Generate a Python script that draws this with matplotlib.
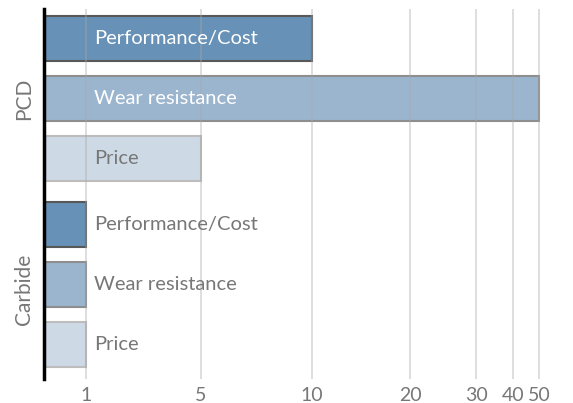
import numpy as np
import matplotlib
matplotlib.use("Agg")
import matplotlib.pyplot as plt
from matplotlib.transforms import blended_transform_factory

plt.rcParams["font.family"] = ["Lato", "DejaVu Sans"]

GROUPS = ["PCD", "Carbide"]
METRICS = ["Performance/Cost", "Wear resistance", "Price"]
PCD_VALUES = [10, 50, 5]
CARBIDE_VALUES = [1, 1, 1]
TICKS = [1, 5, 10, 20, 30, 40, 50]

# the axis is neither linear nor log: it squeezes towards the top end,
# so map tick values to screen positions piecewise
SCALE_VALUES = [0, 1, 5, 10, 20, 30, 40, 50, 60]
SCALE_POS = [0, 42, 157, 268, 366, 432, 469, 495, 529]


def fwd(x):
    return np.interp(x, SCALE_VALUES, SCALE_POS)


def inv(p):
    return np.interp(p, SCALE_POS, SCALE_VALUES)


FILL = ["#6791B6", "#9BB5CF", "#CDD9E5"]
EDGE = ["#585858", "#8E8E8E", "#BDBDBD"]
TEXT_IN = ["white", "white", "#777777"]
GRAY = "#777777"

fig = plt.figure(figsize=(5.73, 4.03), dpi=100)
ax = fig.add_axes([44 / 573, 24 / 403, 512 / 573, 370 / 403])
ax.set_xscale("function", functions=(fwd, inv))

ypos = [0, 1, 2, 3.1, 4.1, 5.1]
values = PCD_VALUES + CARBIDE_VALUES
for i, (y, v) in enumerate(zip(ypos, values)):
    k = i % 3
    ax.barh(y, v, height=0.75, color=FILL[k], edgecolor=EDGE[k],
            linewidth=1.5, zorder=2)
    color = TEXT_IN[k] if i < 3 else GRAY
    ax.annotate(METRICS[k], (1, y), xytext=(6, 0), textcoords="offset points",
                va="center", ha="left", fontsize=14.5, color=color, zorder=4)

ax.set_xlim(0, 55)
ax.set_ylim(5.67, -0.5)
ax.set_xticks(TICKS)
ax.set_xticklabels([str(t) for t in TICKS])
ax.set_yticks([])
ax.tick_params(axis="x", length=0, pad=6, labelsize=14, labelcolor=GRAY)
ax.grid(axis="x", color="#A8A8A8", alpha=0.45, linewidth=1.2, zorder=3)
ax.set_axisbelow(False)

for s in ["top", "right", "bottom"]:
    ax.spines[s].set_visible(False)
ax.spines["left"].set_linewidth(2.5)
ax.spines["left"].set_color("black")

trans = blended_transform_factory(ax.transAxes, ax.transData)
ax.text(-0.039, np.mean(ypos[:3]), GROUPS[0], rotation=90, transform=trans,
        ha="center", va="center", fontsize=15, color=GRAY)
ax.text(-0.039, np.mean(ypos[3:]) + 0.08, GROUPS[1], rotation=90, transform=trans,
        ha="center", va="center", fontsize=15, color=GRAY)

plt.savefig("out.png", dpi=100)
